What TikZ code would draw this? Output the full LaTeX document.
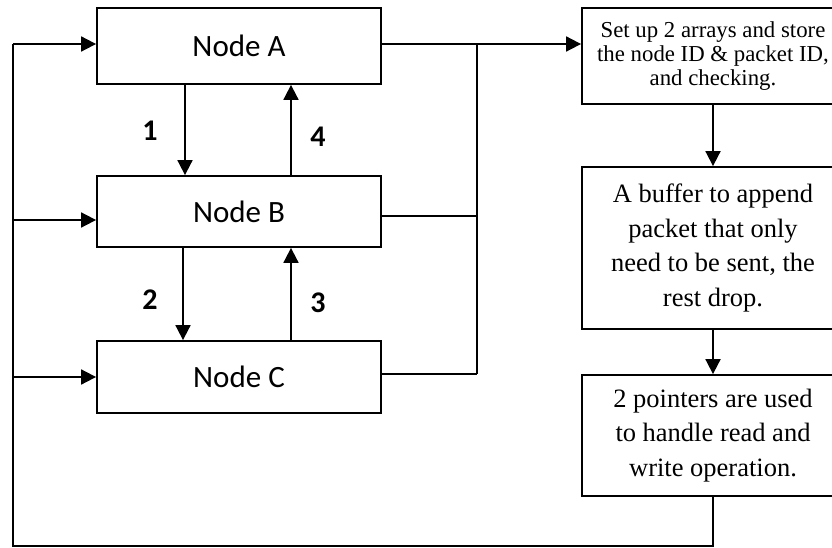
\documentclass[tikz,border=0pt]{standalone}
\usepackage{fontspec}
\setmainfont{Liberation Serif}
\newfontfamily\calib{Carlito}
\usetikzlibrary{arrows.meta}
\begin{document}
\begin{tikzpicture}[x=1pt,y=-1pt,
  lw/.style={line width=1.8pt},
  nodebox/.style={draw,lw,minimum width=284pt,inner sep=0pt,font=\calib\fontsize{31}{36}\selectfont},
  rbox/.style={draw,lw,minimum width=262pt,inner sep=0pt,align=center},
  small/.style={font=\fontsize{22.8}{24}\selectfont},
  big/.style={font=\fontsize{26.5}{34.5}\selectfont},
  lbl/.style={font=\calib\bfseries\fontsize{30}{32}\selectfont},
  arr/.style={lw,-{Triangle[length=15pt,width=15pt]}},
  ln/.style={lw}]
\clip (0,0) rectangle (832,548);
\fill[white] (0,0) rectangle (832,548);

\node[nodebox,minimum height=76pt] (A) at (239,46) {Node A};
\node[nodebox,minimum height=71pt] (B) at (239,211.5) {Node B};
\node[nodebox,minimum height=72pt] (C) at (239,377) {Node C};

\node[rbox,small,minimum height=96pt] (R1) at (713,56) {Set up 2 arrays and store\\the node ID \& packet ID,\\and checking.};
\node[rbox,big,minimum height=162pt] (R2) at (713,248) {A buffer to append\\packet that only\\need to be sent, the\\rest drop.};
\node[rbox,big,minimum height=121pt] (R3) at (713,435.5) {2 pointers are used\\to handle read and\\write operation.};

% vertical arrows between nodes
\coordinate (a1) at (185,0);
\coordinate (a4) at (291,0);
\coordinate (a2) at (183,0);
\draw[arr] (A.south -| a1) -- (B.north -| a1);
\draw[arr] (B.north -| a4) -- (A.south -| a4);
\draw[arr] (B.south -| a2) -- (C.north -| a2);
\draw[arr] (C.north -| a4) -- (B.south -| a4);

\node[lbl] (l1) at (150,131) {1};
\node[lbl] (l4) at (318,137) {4};
\node[lbl] (l2) at (150,300) {2};
\node[lbl] (l3) at (318,303) {3};

% right bus
\coordinate (ra) at (477,44);
\coordinate (rb) at (477,216);
\coordinate (rc) at (477,374);
\draw[arr] (A.east |- ra) -- (R1.west |- ra);
\draw[ln] (ra) -- (rc);
\draw[ln] (B.east |- rb) -- (rb);
\draw[ln] (C.east |- rc) -- (rc);

% right column arrows
\draw[arr] (R1.south) -- (R2.north);
\draw[arr] (R2.south) -- (R3.north);

% feedback loop
\coordinate (la) at (13,44);
\coordinate (lb) at (13,220);
\coordinate (lc) at (13,377);
\coordinate (bl) at (13,546);
\draw[ln] (R3.south) |- (bl) -- (la);
\draw[arr] (la) -- (la -| A.west);
\draw[arr] (lb) -- (lb -| B.west);
\draw[arr] (lc) -- (lc -| C.west);
\end{tikzpicture}
\end{document}
